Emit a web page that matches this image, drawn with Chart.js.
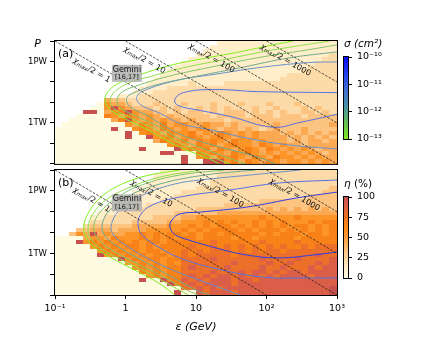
<!DOCTYPE html>
<html><head><meta charset="utf-8">
<script src="https://cdn.jsdelivr.net/npm/chart.js@4.4.1/dist/chart.umd.min.js"></script>
<style>
html,body{margin:0;padding:0;background:#fff;}
#wrap{position:relative;width:439px;height:338px;overflow:hidden;background:#fff;}
canvas{position:absolute;}
</style></head>
<body><div id="wrap">
<canvas id="cA" width="439" height="142" style="left:0;top:30px"></canvas>
<canvas id="cB" width="439" height="178" style="left:0;top:160px"></canvas>
<canvas id="cS" width="101" height="120" style="left:338px;top:30px"></canvas>
<canvas id="cE" width="101" height="120" style="left:338px;top:170px"></canvas>
</div>
<script>
// ---------------- DATA ----------------
const epsTicks = [0.1, 1, 10, 100, 1000];
const epsTickLabels = ['10⁻¹', '1', '10', '10²', '10³'];
const powerTicks = [1e10, 1e11, 1e12, 1e13, 1e14, 1e15, 1e16];
const powerTickLabels = ['', '', '1TW', '', '', '1PW', ''];
const sigmaTicks = [1e-13, 1e-12, 1e-11, 1e-10];
const sigmaTickLabels = ['10⁻¹³', '10⁻¹²', '10⁻¹¹', '10⁻¹⁰'];
const etaTicks = [0, 25, 50, 75, 100];

// heat-map grid: 40 columns of 0.1 decade in ε starting at 10^-1 GeV,
// 30 rows of 0.2 decade in P starting at 10^16 W (top) ; '.' = no data, digit d -> η = d/9*100 %
const gridLogEpsStart = -1, gridLogEpsStep = 0.1, gridLogPTop = 16, gridLogPStep = 0.2;
const etaGridA = [
".......... .......... ...1111111 1111111111",
".......... .......... ..11111111 1111111111",
".......... .......... .111111111 1111111111",
".......... .......... 1111111111 1111111112",
".......... .........1 1111111111 1111111122",
".......... ........11 1111111111 1111111222",
".......... .......111 1111111111 1111112222",
".......... ......1111 1111111111 1111122222",
".......... .....11111 1111111111 1112222222",
".......... ....111111 1111111111 1122222222",
".......... ...1111112 1111222222 2222222222",
".......... ..11112222 2222222222 2222222222",
".......... .111222222 2222222222 2222222222",
".........1 1122222222 2222222222 2222222222",
".......433 2222222222 2222222222 2222222222",
"......0544 3222322232 2232223222 3222322222",
".....00595 4333232322 3232322232 2322232322",
"....990456 9544332323 3232333232 3232233232",
"...0000654 6545434333 3323333233 3233323333",
"..00000046 9545454434 3333233333 3333333333",
".000000000 5465464554 4544343333 3433333334",
"0000000090 0565465454 5543443432 3433343333",
"0000000000 9056546556 4546545454 4434343434",
"0000000000 9009556456 5456545454 4443434343",
"0000000000 0000465564 6565465545 4443434434",
"0000000000 0000005654 6564565546 5454434444",
"0000000000 0090000956 5646545654 6545454344",
"0000000000 0000099000 6565465654 5454545434",
"0000000000 0000000090 5646565465 4655454544",
"0000000000 0000000090 0999564654 6545545454"
];
const etaGridB = [
".......... .....11111 1112222222 2222222222",
".......... ....111111 1112222222 2222222222",
".......... ....111111 1122222222 2222222222",
".......... ...1111111 1122222222 2222222222",
".......... ..11111111 2222222222 2222222223",
".......... .111111122 2222222222 2222222233",
".......... 1111111222 2222222222 2222223333",
".........1 1111122222 2222222223 3333333333",
"........11 1112222222 2222333333 3333333333",
".......111 1222222222 3333333333 4343434343",
"......1112 2222222333 3334444444 4444444444",
".....11222 2222333344 5555555556 5555655555",
".....22222 2333334455 5656565565 6565556566",
"....233333 3444445556 5656656565 6565665656",
"...3344434 4445555565 6566665656 6656565656",
"..35494544 5565656656 5665666665 6566656656",
"0000455465 5565656566 5666656656 6666566666",
"0009565656 5656656666 6676666667 6666766666",
"0000056565 6656566667 6676767676 7676676777",
"0000005656 5656656676 7677767676 7767777777",
"0000009565 6565665676 7777767777 7777777877",
"0000000009 5656656677 7787777778 7777877778",
"0000000000 5565656577 7777787777 8778777878",
"0000000000 0565656678 7777877778 7787778788",
"0000000000 0065656677 7787778788 7878878888",
"0000000000 0005656678 7878878787 8788887888",
"0000000000 0090096687 8788878878 8888888888",
"0000000000 0000009678 7888878888 8888888888",
"0000000000 0000000077 8787888888 8888888889",
"0000000000 0000000900 8788878888 8888888889"
];

// σ contour lines, points as [log10 ε (GeV), log10 P (W)], outermost (1e-13 cm²) first
const contoursA = [
  [[2.38,16.0],[2.09,15.81],[1.62,15.47],[1.16,15.18],[0.67,14.84],[0.21,14.36],[-0.08,13.97],[-0.25,13.53],[-0.29,13.05],[-0.22,12.66],[-0.04,12.27],[0.35,11.60],[0.77,10.82],[1.16,10.29],[1.33,10.0]],
  [[2.90,16.0],[2.09,15.56],[1.38,15.08],[0.82,14.69],[0.35,14.26],[0.06,13.97],[-0.15,13.53],[-0.22,13.05],[-0.15,12.66],[0.06,12.27],[0.45,11.65],[0.77,11.02],[1.20,10.39],[1.48,10.0]],
  [[3.0,15.81],[2.57,15.56],[1.87,15.18],[1.16,14.69],[0.59,14.26],[0.21,13.87],[-0.04,13.53],[-0.12,13.15],[-0.08,12.76],[0.16,12.32],[0.49,11.79],[0.77,11.21],[1.27,10.53],[1.70,10.0]],
  [[3.0,15.47],[2.33,15.18],[1.62,14.69],[0.91,14.21],[0.45,13.87],[0.16,13.53],[0.02,13.24],[0.06,12.81],[0.30,12.37],[0.77,11.45],[1.24,10.92],[1.87,10.34],[2.12,10.0]],
  [[3.0,14.98],[2.57,14.94],[1.87,14.69],[1.24,14.36],[0.77,14.11],[0.30,13.63],[0.16,13.29],[0.21,12.90],[0.49,12.47],[0.77,11.98],[1.24,11.64],[1.72,11.26],[2.33,10.92],[3.0,10.73]],
  [[3.0,13.48],[1.87,13.53],[1.24,13.63],[0.82,13.48],[0.70,13.15],[0.74,12.86],[1.06,12.61],[1.48,12.32],[2.09,11.79],[2.48,12.03],[3.0,12.42]]
];
const contoursB = [
  [[0.77,16.0],[0.28,15.71],[-0.11,15.23],[-0.36,14.66],[-0.52,13.98],[-0.59,13.36],[-0.57,12.88],[-0.48,12.40],[-0.22,11.82],[0.13,11.20],[0.49,10.53],[0.70,10.0]],
  [[1.06,16.0],[0.49,15.66],[0.04,15.14],[-0.28,14.56],[-0.46,13.89],[-0.53,13.26],[-0.50,12.74],[-0.36,12.26],[-0.08,11.73],[0.32,11.06],[0.66,10.43],[0.89,10.0]],
  [[1.41,16.0],[0.77,15.76],[0.23,15.28],[-0.13,14.66],[-0.36,13.98],[-0.45,13.31],[-0.40,12.74],[-0.22,12.21],[0.09,11.63],[0.49,10.96],[0.84,10.29],[1.03,10.0]],
  [[1.84,16.0],[1.13,15.76],[0.49,15.33],[0.04,14.75],[-0.22,14.08],[-0.33,13.41],[-0.29,12.83],[-0.08,12.26],[0.28,11.58],[0.66,10.86],[1.03,10.19],[1.20,10.0]],
  [[2.48,16.0],[1.77,15.76],[1.06,15.52],[0.70,15.33],[0.28,14.85],[-0.05,14.18],[-0.19,13.50],[-0.18,12.93],[0.04,12.30],[0.42,11.58],[0.77,11.06],[1.24,10.48],[1.62,10.0]],
  [[3.0,15.52],[2.19,15.38],[1.48,15.04],[0.77,14.70],[0.38,14.32],[0.21,13.84],[0.18,13.31],[0.25,12.83],[0.49,12.26],[0.77,11.78],[1.24,11.30],[1.95,10.86],[2.66,10.82],[3.0,10.82]],
  [[3.0,14.94],[2.43,14.66],[1.72,14.22],[1.06,13.98],[0.77,13.89],[0.66,13.60],[0.63,13.26],[0.69,12.93],[0.77,12.78],[1.24,12.30],[1.72,11.92],[2.19,11.78],[2.66,11.92],[3.0,12.06]]
];

// χmax/2 iso-lines: log10 P = chiRefLogP + 2 log10 χ - 2 log10 ε
const chiLevels = [1, 10, 100, 1000];
const chiRefLogP = 14;
const chiLabelLogEpsA = [-0.43, 0.32, 1.27, 2.32];
const chiLabelLogEpsB = [-0.43, 0.42, 1.40, 2.45];
const geminiPos = [0.02, 14.42]; // [log10 ε, log10 P]

// ---------------- STYLE ----------------
const FONT = '"DejaVu Sans", sans-serif';
Chart.defaults.font.family = FONT;
Chart.defaults.color = '#000';
const contourColors = ['#7ff01e','#8fdf4a','#7fc46c','#6fa98f','#6790cc','#5571e4','#2d3ce6'];
const sigmaStops = [[0,'#7ce81c'],[0.2,'#5fbf55'],[0.4,'#4a93a8'],[0.6,'#3f6fd2'],[0.8,'#2340ec'],[1,'#0808fa']];
const etaStops = [[0,[255,251,224]],[10,[255,240,204]],[25,[253,214,160]],[40,[252,180,104]],[50,[253,156,56]],[62,[252,138,20]],[75,[240,116,32]],[88,[220,96,72]],[100,[200,80,78]]];

function etaColor(v) {
  for (let i = 1; i < etaStops.length; i++) {
    if (v <= etaStops[i][0]) {
      const [v0, c0] = etaStops[i-1], [v1, c1] = etaStops[i];
      const t = (v - v0) / (v1 - v0);
      return 'rgb(' + c0.map((c, k) => Math.round(c + (c1[k] - c) * t)).join(',') + ')';
    }
  }
  return 'rgb(' + etaStops[etaStops.length-1][1].join(',') + ')';
}
function chiLineLogP(logEps, chi) { return chiRefLogP + 2 * Math.log10(chi) - 2 * logEps; }
function chiLineLogEps(logP, chi) { return (chiRefLogP + 2 * Math.log10(chi) - logP) / 2; }

const framePlugin = { id: 'frame', afterDraw(chart) {
  const {ctx, chartArea: a} = chart;
  ctx.save(); ctx.strokeStyle = '#000'; ctx.lineWidth = 1;
  ctx.strokeRect(a.left - 0.5, a.top - 0.5, a.width + 1, a.height + 1);
  ctx.restore();
}};

function heatPlugin(grid) {
  const rows = grid.map(s => s.replace(/ /g, ''));
  return { id: 'heat', beforeDatasetsDraw(chart) {
    const {ctx, chartArea: a, scales: {x, y}} = chart;
    ctx.save();
    ctx.beginPath(); ctx.rect(a.left, a.top, a.width, a.height); ctx.clip();
    rows.forEach((row, r) => {
      for (let c = 0; c < row.length; c++) {
        const ch = row[c];
        if (ch === '.') continue;
        const v = Number(ch) / 9 * 100;
        const x0 = x.getPixelForValue(10 ** (gridLogEpsStart + c * gridLogEpsStep));
        const x1 = x.getPixelForValue(10 ** (gridLogEpsStart + (c + 1) * gridLogEpsStep));
        const y0 = y.getPixelForValue(10 ** (gridLogPTop - r * gridLogPStep));
        const y1 = y.getPixelForValue(10 ** (gridLogPTop - (r + 1) * gridLogPStep));
        ctx.fillStyle = etaColor(v);
        ctx.fillRect(Math.floor(x0), Math.floor(y0), Math.ceil(x1) - Math.floor(x0), Math.ceil(y1) - Math.floor(y0));
      }
    });
    ctx.restore();
  }};
}

function drawChiLabel(ctx, x, y, ang, chi) {
  ctx.save(); ctx.translate(x, y); ctx.rotate(ang);
  const f1 = 'italic 8px ' + FONT, f2 = 'italic 5.5px ' + FONT, f3 = '8px ' + FONT;
  const t3 = '/2 = ' + chi;
  ctx.font = f1; const w1 = ctx.measureText('χ').width;
  ctx.font = f2; const w2 = ctx.measureText('max').width;
  ctx.font = f3; const w3 = ctx.measureText(t3).width;
  let sx = -(w1 + w2 + w3) / 2; const by = 9;
  ctx.fillStyle = '#111'; ctx.textBaseline = 'alphabetic'; ctx.textAlign = 'left';
  ctx.font = f1; ctx.fillText('χ', sx, by); sx += w1;
  ctx.font = f2; ctx.fillText('max', sx, by + 1.5); sx += w2;
  ctx.font = f3; ctx.fillText(t3, sx, by);
  ctx.restore();
}
function drawGemini(ctx, x, y) {
  ctx.save();
  ctx.fillStyle = 'rgba(175,175,175,0.85)';
  ctx.fillRect(x - 15, y - 8.5, 30, 17);
  ctx.fillStyle = '#111'; ctx.textAlign = 'center'; ctx.textBaseline = 'middle';
  ctx.font = '8px ' + FONT; ctx.fillText('Gemini', x, y - 3.5);
  ctx.font = '6.5px ' + FONT; ctx.fillText('[16,17]', x, y + 4);
  ctx.restore();
}

function annoPlugin(cfg) {
  return { id: 'anno',
    afterDatasetsDraw(chart) {
      const {ctx, chartArea: a, scales: {x, y}} = chart;
      ctx.save();
      ctx.beginPath(); ctx.rect(a.left, a.top, a.width, a.height); ctx.clip();
      chiLevels.forEach((chi, i) => {
        const L = cfg.chiLabelLogEps[i];
        const px = x.getPixelForValue(10 ** L), py = y.getPixelForValue(10 ** chiLineLogP(L, chi));
        const qx = x.getPixelForValue(10 ** (L + 0.5)), qy = y.getPixelForValue(10 ** chiLineLogP(L + 0.5, chi));
        drawChiLabel(ctx, px, py, Math.atan2(qy - py, qx - px), chi);
      });
      drawGemini(ctx, x.getPixelForValue(10 ** geminiPos[0]), y.getPixelForValue(10 ** geminiPos[1]));
      ctx.fillStyle = '#000'; ctx.font = '11px ' + FONT; ctx.textAlign = 'left'; ctx.textBaseline = 'middle';
      ctx.fillText(cfg.panelLabel, a.left + 3, a.top + 13);
      ctx.restore();
    },
    afterDraw(chart) {
      if (!cfg.axisLetter) return;
      const {ctx, chartArea: a} = chart;
      ctx.save(); ctx.fillStyle = '#000'; ctx.font = 'italic 11px ' + FONT;
      ctx.textAlign = 'center'; ctx.textBaseline = 'middle';
      ctx.fillText(cfg.axisLetter, a.left - 17.5, a.top + 3);
      ctx.restore();
    }
  };
}

function buildPanel(id, cfg) {
  const datasets = [];
  chiLevels.forEach(chi => {
    datasets.push({
      data: [{x: 10 ** chiLineLogEps(16, chi), y: 1e16}, {x: 10 ** chiLineLogEps(10, chi), y: 1e10}],
      showLine: true, borderColor: 'rgba(20,20,20,0.9)', borderWidth: 0.8, borderDash: [2.5, 1.5],
      pointRadius: 0, tension: 0
    });
  });
  cfg.contours.forEach((pts, level) => {
    datasets.push({
      data: pts.map(p => ({x: 10 ** p[0], y: 10 ** p[1]})),
      showLine: true, borderColor: contourColors[level], borderWidth: 1,
      pointRadius: 0, tension: 0.4, fill: false
    });
  });
  return new Chart(document.getElementById(id), {
    type: 'scatter',
    data: { datasets },
    options: {
      responsive: false, animation: false, events: [], devicePixelRatio: 1,
      layout: { padding: { left: 0, right: 102, top: cfg.padTop, bottom: cfg.padBottom } },
      plugins: { legend: { display: false }, tooltip: { enabled: false } },
      scales: {
        x: {
          type: 'logarithmic', min: 0.1, max: 1000, display: cfg.showX,
          afterBuildTicks: ax => { ax.ticks = epsTicks.map(v => ({value: v})); },
          ticks: { callback: v => { const i = epsTicks.indexOf(v); return i >= 0 ? epsTickLabels[i] : ''; },
                   font: { size: 9.5 }, color: '#000', maxRotation: 0, autoSkip: false, padding: 4 },
          grid: { display: true, drawOnChartArea: false, drawTicks: true, tickLength: 4, color: '#000' },
          border: { display: false },
          title: { display: cfg.showX, text: 'ε (GeV)', font: { size: 11, style: 'italic' }, color: '#000', padding: { top: 0, bottom: 4 } },
          afterFit: ax => { ax.height = cfg.showX ? 43 : 0; }
        },
        y: {
          type: 'logarithmic', min: 1e10, max: 1e16,
          afterBuildTicks: ax => { ax.ticks = powerTicks.map(v => ({value: v})); },
          ticks: { callback: v => { const i = powerTicks.indexOf(v); return i >= 0 ? powerTickLabels[i] : ''; },
                   font: { size: 8.5 }, color: '#000', padding: 3, autoSkip: false },
          grid: { display: true, drawOnChartArea: false, drawTicks: true, tickLength: 5, color: '#000' },
          border: { display: false },
          afterFit: ax => { ax.width = 55; }
        }
      }
    },
    plugins: [heatPlugin(cfg.grid), annoPlugin(cfg), framePlugin]
  });
}

buildPanel('cA', { grid: etaGridA, contours: contoursA, chiLabelLogEps: chiLabelLogEpsA, panelLabel: '(a)', padTop: 11, padBottom: 6, showX: false, axisLetter: 'P' });
buildPanel('cB', { grid: etaGridB, contours: contoursB, chiLabelLogEps: chiLabelLogEpsB, panelLabel: '(b)', padTop: 10, padBottom: 0, showX: true, axisLetter: '' });

function titlePlugin(parts) {
  return { id: 'cbtitle', afterDraw(chart) {
    const ctx = chart.ctx; ctx.save(); ctx.fillStyle = '#000'; ctx.textBaseline = 'middle'; ctx.textAlign = 'left';
    let x = 6;
    parts.forEach(([txt, font]) => { ctx.font = font; ctx.fillText(txt, x, 14); x += ctx.measureText(txt).width; });
    ctx.restore();
  }};
}
function buildColorbar(id, cfg) {
  return new Chart(document.getElementById(id), {
    type: 'bar',
    data: { labels: [''], datasets: [{
      data: [[cfg.min, cfg.max]], borderWidth: 0, barPercentage: 1, categoryPercentage: 1,
      backgroundColor: c => {
        const ch = c.chart, a = ch.chartArea;
        if (!a) return '#888';
        const g = ch.ctx.createLinearGradient(0, a.bottom, 0, a.top);
        cfg.stops.forEach(([t, col]) => g.addColorStop(t, col));
        return g;
      }
    }]},
    options: {
      responsive: false, animation: false, events: [], devicePixelRatio: 1,
      layout: { padding: { left: 6, right: 0, top: 27, bottom: cfg.padBottom } },
      plugins: { legend: { display: false }, tooltip: { enabled: false } },
      scales: {
        x: { display: false },
        y: {
          type: cfg.type, position: 'right', min: cfg.min, max: cfg.max,
          afterBuildTicks: ax => { ax.ticks = cfg.ticks.map(v => ({value: v})); },
          ticks: { callback: v => { const i = cfg.ticks.indexOf(v); return i >= 0 ? cfg.labels[i] : ''; },
                   font: { size: 9.5 }, color: '#000', padding: 5, autoSkip: false },
          grid: { display: true, drawOnChartArea: false, drawTicks: true, tickLength: 4, color: '#000' },
          border: { display: false },
          afterFit: ax => { ax.width = 91; }
        }
      }
    },
    plugins: [framePlugin, titlePlugin(cfg.title)]
  });
}
buildColorbar('cS', { type: 'logarithmic', min: sigmaTicks[0], max: sigmaTicks[sigmaTicks.length - 1], ticks: sigmaTicks, labels: sigmaTickLabels,
  stops: sigmaStops, padBottom: 11, title: [['σ (cm²)', 'italic 10.5px ' + FONT]] });
const etaCbStops = etaStops.map(([v]) => [v / 100, etaColor(v)]);
buildColorbar('cE', { type: 'linear', min: 0, max: 100, ticks: etaTicks, labels: etaTicks.map(String),
  stops: etaCbStops, padBottom: 12, title: [['η', 'italic 10.5px ' + FONT], [' (%)', '10.5px ' + FONT]] });
</script>
</body></html>
